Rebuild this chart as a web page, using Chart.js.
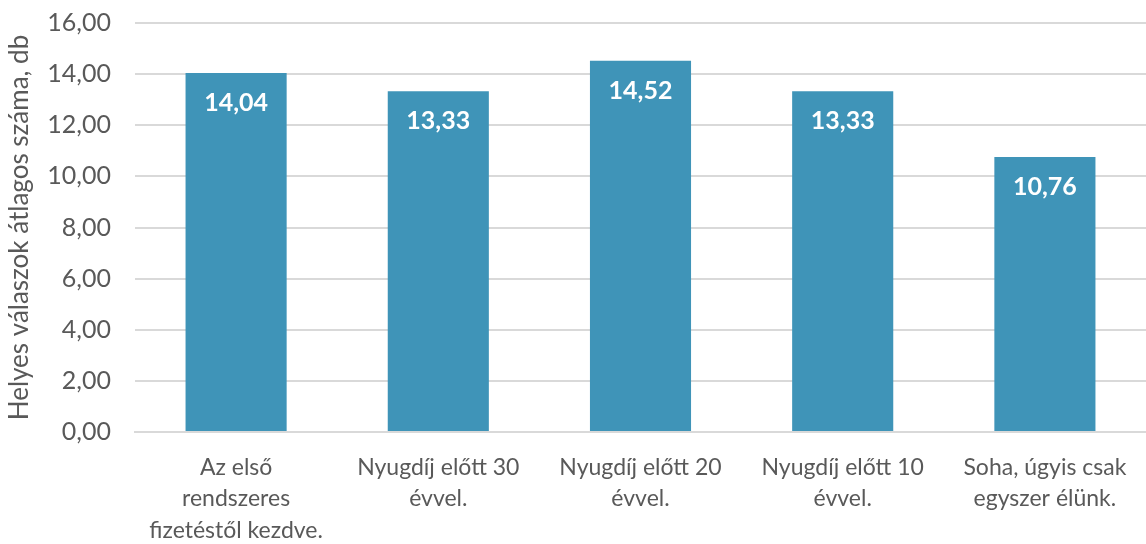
<!DOCTYPE html>
<html>
<head>
<meta charset="utf-8">
<script src="https://cdn.jsdelivr.net/npm/chart.js@4/dist/chart.umd.min.js"></script>
<style>
  html, body { margin: 0; padding: 0; background: #fff; }
  #wrap { width: 1146px; height: 544px; }
</style>
</head>
<body>
<div id="wrap"><canvas id="chart"></canvas></div>
<script>
const categories = [
    ['Az első', 'rendszeres', 'fizetéstől kezdve.'],
    ['Nyugdíj előtt 30', 'évvel.'],
    ['Nyugdíj előtt 20', 'évvel.'],
    ['Nyugdíj előtt 10', 'évvel.'],
    ['Soha, úgyis csak', 'egyszer élünk.']
]
const averages = [14.04, 13.33, 14.52, 13.33, 10.76]
const yTitle = 'Helyes válaszok átlagos száma, db'

const fmt = v => v.toFixed(2).replace('.', ',')
const font = 'Lato, "Open Sans", sans-serif'

// white value labels inside the top of each bar
const valueLabels = {
    id: 'valueLabels',
    afterDatasetsDraw(chart) {
        const ctx = chart.ctx
        const meta = chart.getDatasetMeta(0)
        ctx.save()
        ctx.fillStyle = '#ffffff'
        ctx.font = 'bold 25px ' + font
        ctx.textAlign = 'center'
        ctx.textBaseline = 'middle'
        meta.data.forEach((bar, i) => {
            ctx.fillText(fmt(averages[i]), bar.x, bar.y + 30)
        })
        ctx.restore()
    }
}

new Chart(document.getElementById('chart'), {
    type: 'bar',
    data: {
        labels: categories,
        datasets: [{
            data: averages,
            backgroundColor: '#3F94B8',
            categoryPercentage: 1,
            barPercentage: 0.5
        }]
    },
    options: {
        responsive: true,
        maintainAspectRatio: false,
        animation: false,
        layout: { padding: { top: 23, right: 0, left: 0, bottom: 0 } },
        plugins: {
            legend: { display: false },
            tooltip: { enabled: false }
        },
        scales: {
            x: {
                grid: { display: false },
                border: { color: '#d9d9d9', width: 2 },
                ticks: {
                    color: '#595959',
                    font: { family: font, size: 23, lineHeight: 1.36 },
                    maxRotation: 0,
                    autoSkip: false,
                    padding: 12
                },
                afterFit(scale) { scale.height = 112 }
            },
            y: {
                min: 0,
                max: 16,
                ticks: {
                    stepSize: 2,
                    color: '#595959',
                    font: { family: font, size: 25 },
                    padding: 24,
                    callback: v => fmt(v)
                },
                grid: { color: '#d9d9d9', lineWidth: 2, drawTicks: false },
                border: { display: false },
                title: {
                    display: true,
                    text: yTitle,
                    color: '#595959',
                    font: { family: font, size: 26 },
                    padding: { top: 4, bottom: 2 }
                },
                afterFit(scale) {
                    scale.width = 135
                    scale.paddingTop = 0
                    scale.paddingBottom = 0
                }
            }
        }
    },
    plugins: [valueLabels]
});
</script>
</body>
</html>
